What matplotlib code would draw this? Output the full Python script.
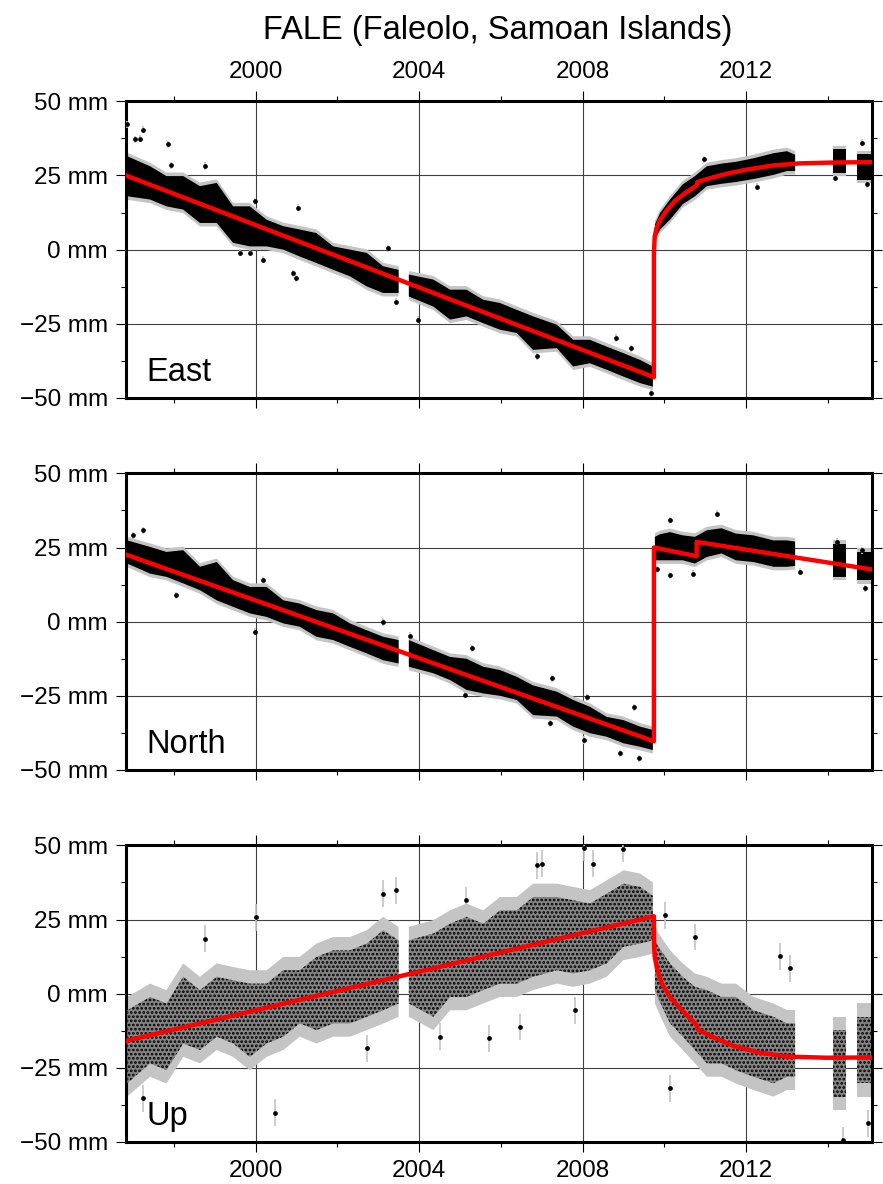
import numpy as np
import matplotlib.pyplot as plt
from matplotlib.ticker import MultipleLocator, FuncFormatter

plt.rcParams['font.family'] = ['Liberation Sans', 'DejaVu Sans']
plt.rcParams['hatch.linewidth'] = 1.3

nan = np.nan

# sample times (decimal year) for the envelope of the daily point cloud;
# rows with nan values are data gaps
t = np.array([1996.86, 1997.42, 1997.82, 1998.23, 1998.64, 1999.05, 1999.45, 1999.86,
              2000.27, 2000.68, 2001.08, 2001.49, 2001.90, 2002.31, 2002.72, 2003.12,
              2003.50, 2003.62, 2003.75, 2004.35, 2004.76, 2005.16, 2005.57, 2005.98,
              2006.39, 2006.79, 2007.37, 2007.77, 2008.18, 2008.59, 2009.00, 2009.41,
              2009.72, 2009.745, 2009.77, 2009.90, 2010.14, 2010.45, 2010.75, 2011.04,
              2011.40, 2011.75, 2012.18, 2012.67, 2013.00, 2013.20, 2013.60, 2014.12,
              2014.45, 2014.60, 2014.72, 2015.06])

east_hi = [31.5, 28.1, 24.8, 24.8, 21.4, 22.5, 14.6, 14.6, 10.1, 7.9, 6.8, 5.6, 1.1, 0.0,
           -1.1, -5.6, -6.8, nan, -8.4, -10.1, -13.5, -13.5, -16.9, -18.0, -20.3, -22.5,
           -25.3, -30.4, -30.4, -32.7, -34.9, -37.2, -39.4, nan, 8.5, 12.4, 16.9, 22.0,
           24.8, 28.1, 29.0, 29.6, 30.8, 32.5, 33.2, 32.0, nan, 33.8, 33.8, nan, 32.1, 32.1]
east_lo = [18.0, 16.9, 14.6, 13.5, 9.0, 9.0, 2.3, 1.1, 1.1, 0.0, -2.3, -4.5, -6.8, -9.0,
           -12.4, -14.6, -14.6, nan, -15.8, -19.2, -23.6, -22.5, -24.8, -27.0, -28.1, -33.8,
           -33.2, -39.4, -38.3, -40.5, -42.8, -45.0, -46.2, nan, 3.5, 6.8, 10.1, 15.3,
           18.0, 21.4, 22.2, 22.8, 23.8, 25.2, 26.5, 26.5, nan, 25.9, 25.9, nan, 23.6, 23.6]

north_hi = [27.4, 25.2, 23.5, 24.1, 18.5, 20.1, 14.0, 11.7, 11.7, 7.2, 6.1, 3.9, 2.8, -0.6,
            -2.9, -5.1, -6.2, nan, -6.2, -9.6, -11.9, -12.5, -15.2, -16.3, -18.6, -21.5,
            -23.6, -26.4, -28.7, -32.1, -33.2, -35.4, -36.5, nan, 28.6, 29.5, 30.2, 29.1,
            28.6, 30.8, 31.5, 29.7, 29.1, 27.4, 27.4, 27.0, nan, 26.3, 26.3, nan, 23.5, 23.5]
north_lo = [19.6, 16.2, 15.1, 12.9, 10.6, 7.2, 5.0, 2.8, 1.6, -0.6, -1.7, -5.1, -6.2, -8.5,
            -10.7, -13.0, -14.1, nan, -15.2, -17.4, -19.7, -23.0, -24.2, -25.0, -26.4, -31.5,
            -32.0, -35.4, -37.6, -38.8, -41.0, -42.2, -43.3, nan, 20.7, 20.7, 20.7, 20.7,
            19.6, 21.8, 23.0, 20.7, 20.1, 18.5, 18.5, 18.8, nan, 15.1, 15.1, nan, 14.0, 14.0]

up_hi = [-5.6, -1.1, -3.3, 5.7, 1.2, 5.7, 4.5, 3.4, 3.4, 7.9, 7.9, 12.4, 14.6, 14.6,
         16.9, 21.4, 18.0, nan, 18.0, 20.3, 23.6, 25.9, 23.6, 28.1, 28.1, 32.6,
         32.6, 31.5, 30.4, 33.7, 37.1, 36.0, 33.0, nan, 18.0, 15.0, 10.2, 5.7,
         2.3, 1.2, -1.1, -1.1, -5.6, -7.8, -10.0, -10.0, nan, -12.3, -12.3, nan, -7.8, -7.8]
up_lo = [-30.2, -23.5, -25.8, -16.8, -19.0, -14.5, -16.8, -21.3, -16.8, -14.5, -10.0, -12.3,
         -10.0, -10.0, -7.8, -5.6, -3.3, nan, -3.3, -7.8, -1.1, -1.1, 1.2, 3.4, 3.4, 5.7,
         7.9, 6.8, 7.9, 10.2, 15.8, 16.9, 18.0, nan, 1.2, -3.0, -10.0, -14.5,
         -19.0, -23.5, -23.5, -25.8, -28.0, -30.2, -28.0, -28.0, nan, -34.7, -34.7, nan,
         -30.2, -30.2]

# typical half length of the grey error bars (mm)
east_err = 1.2
north_err = 1.2
up_err = 4.5

# isolated points standing outside the cloud
east_ox = [1996.86, 1997.05, 1997.17, 1997.25, 1997.86, 1997.92, 1998.76, 1999.62, 1999.86,
           1999.98, 2000.19, 2000.92, 2001.00, 2001.03, 2003.25, 2003.43, 2003.98, 2006.88,
           2008.82, 2009.18, 2009.67, 2010.96, 2012.27, 2014.18, 2014.84, 2014.96]
east_oy = [42.2, 37.2, 37.4, 40.5, 35.5, 28.5, 28.2, -1.1, -1.1, 16.3, -3.4, -8.0, -9.6,
           14.1, 0.4, -17.5, -23.6, -36.0, -29.8, -33.2, -48.4, 30.4, 21.2, 24.2, 36.0, 22.0]

north_ox = [1997.00, 1997.25, 1998.06, 1999.98, 2000.18, 2003.12, 2003.78, 2005.29, 2005.12,
            2007.20, 2007.24, 2008.10, 2009.27, 2009.37, 2008.04, 2008.92, 2010.14, 2011.28,
            2010.14, 2010.71, 2009.81, 2013.32, 2014.22, 2014.92, 2014.84]
north_oy = [29.1, 30.8, 8.9, -3.4, 14.0, -0.1, -4.8, -9.0, -24.7, -34.3, -19.1, -25.5, -28.9,
            -46.1, -39.9, -44.4, 34.2, 36.4, 15.7, 16.2, 17.6, 16.8, 26.9, 11.2, 24.1]

up_ox = [1998.77, 2000.02, 2000.47, 1997.25, 2003.43, 2003.12, 2007.00, 2006.88, 2005.16,
         2005.72, 2006.47, 2004.51, 2002.72, 2008.03, 2008.98, 2008.26, 2007.81, 2010.14,
         2010.75, 2012.83, 2013.08, 2014.38, 2014.99, 2010.02]
up_oy = [18.6, 25.7, -40.1, -35.3, 34.8, 33.7, 43.8, 43.3, 31.5, -15.1, -11.2, -14.5, -18.4,
         49.2, 48.9, 43.8, -5.6, -31.9, 19.1, 12.6, 8.5, -49.3, -43.7, 26.4]

# fitted model (red line), knots
east_mt = [1996.83, 2009.745, 2009.745, 2009.765, 2009.81, 2009.90, 2010.06, 2010.26,
           2010.55, 2010.79, 2010.81, 2011.12, 2011.53, 2012.02, 2012.67, 2013.32, 2014.22,
           2015.08]
east_mv = [25.0, -43.0, -1.1, 4.5, 7.3, 10.1, 13.3, 16.4, 19.5, 21.6, 22.8, 24.1, 25.6,
           27.0, 28.4, 29.1, 29.4, 29.5]

north_mt = [1996.83, 2009.745, 2009.745, 2010.79, 2010.79, 2015.08]
north_mv = [22.6, -40.3, 25.0, 22.1, 26.9, 17.6]

up_mt = [1996.83, 2009.745, 2009.75, 2009.765, 2009.83, 2009.94, 2010.14, 2010.39, 2010.63,
         2010.79, 2010.82, 2011.20, 2011.69, 2012.34, 2013.00, 2013.97, 2015.08]
up_mv = [-15.9, 26.1, 16.0, 12.4, 7.9, 3.4, -1.1, -5.0, -8.4, -10.6, -12.1, -14.7, -17.6,
         -19.9, -21.2, -21.6, -21.5]

panels = [
    ('East', east_lo, east_hi, east_err, east_ox, east_oy, east_mt, east_mv),
    ('North', north_lo, north_hi, north_err, north_ox, north_oy, north_mt, north_mv),
    ('Up', up_lo, up_hi, up_err, up_ox, up_oy, up_mt, up_mv),
]

fig = plt.figure(figsize=(8.83, 11.84), dpi=100)
bottoms = [0.6639, 0.3497, 0.0355]

mm_fmt = FuncFormatter(lambda v, pos: f"{int(round(v))} mm".replace('-', '\u2212'))

for i, (name, lo, hi, err, ox, oy, mt, mv) in enumerate(panels):
    ax = fig.add_axes([0.1427, bottoms[i], 0.8448, 0.2505])
    lo = np.array(lo)
    hi = np.array(hi)

    ax.fill_between(t, lo - err, hi + err, color='#c4c4c4', lw=0, zorder=2)
    if name == 'Up':
        ax.fill_between(t, lo, hi, facecolor='#858585', lw=0, zorder=3)
        ax.fill_between(t, lo, hi, facecolor='none', edgecolor='black', hatch='....',
                        lw=0, zorder=3)
    else:
        ax.fill_between(t, lo, hi, color='black', lw=0, zorder=3)
    ax.errorbar(ox, oy, yerr=err, fmt='o', ms=2.4, color='black', ecolor='#c4c4c4',
                elinewidth=1.2, capsize=0, zorder=3)

    ax.plot(mt, mv, color='#ff0000', lw=3.2, zorder=5, solid_joinstyle='round')

    ax.set_xlim(1996.83, 2015.08)
    ax.set_ylim(-50, 50)
    ax.xaxis.set_major_locator(MultipleLocator(4))
    ax.xaxis.set_minor_locator(MultipleLocator(2))
    ax.yaxis.set_major_locator(MultipleLocator(25))
    ax.yaxis.set_minor_locator(MultipleLocator(12.5))
    ax.yaxis.set_major_formatter(mm_fmt)

    ax.set_axisbelow(True)
    ax.grid(True, which='major', color='#404040', lw=0.8)
    for tk in ax.xaxis.get_major_ticks():
        if abs(tk.get_loc() - 2008) < 0.01:
            tk.gridline.set_color('#c0c0c0')

    ax.tick_params(which='both', direction='out', top=True, bottom=True, left=True,
                   right=True, width=0.8, labelsize=17.5, pad=6)
    ax.tick_params(which='major', length=7)
    ax.tick_params(which='minor', length=3.5)
    ax.tick_params(axis='x', labeltop=(i == 0), labelbottom=(i == 2))
    for s in ax.spines.values():
        s.set_linewidth(2.2)

    ax.text(0.027, 0.056, name, transform=ax.transAxes, fontsize=23.5, va='baseline',
            ha='left', zorder=6)

# title centred over the plotting area
fig.text(0.564, 1 - 30 / 1184, 'FALE (Faleolo, Samoan Islands)', ha='center', va='center',
         fontsize=23.5)

fig.savefig('out.png', dpi=100)
